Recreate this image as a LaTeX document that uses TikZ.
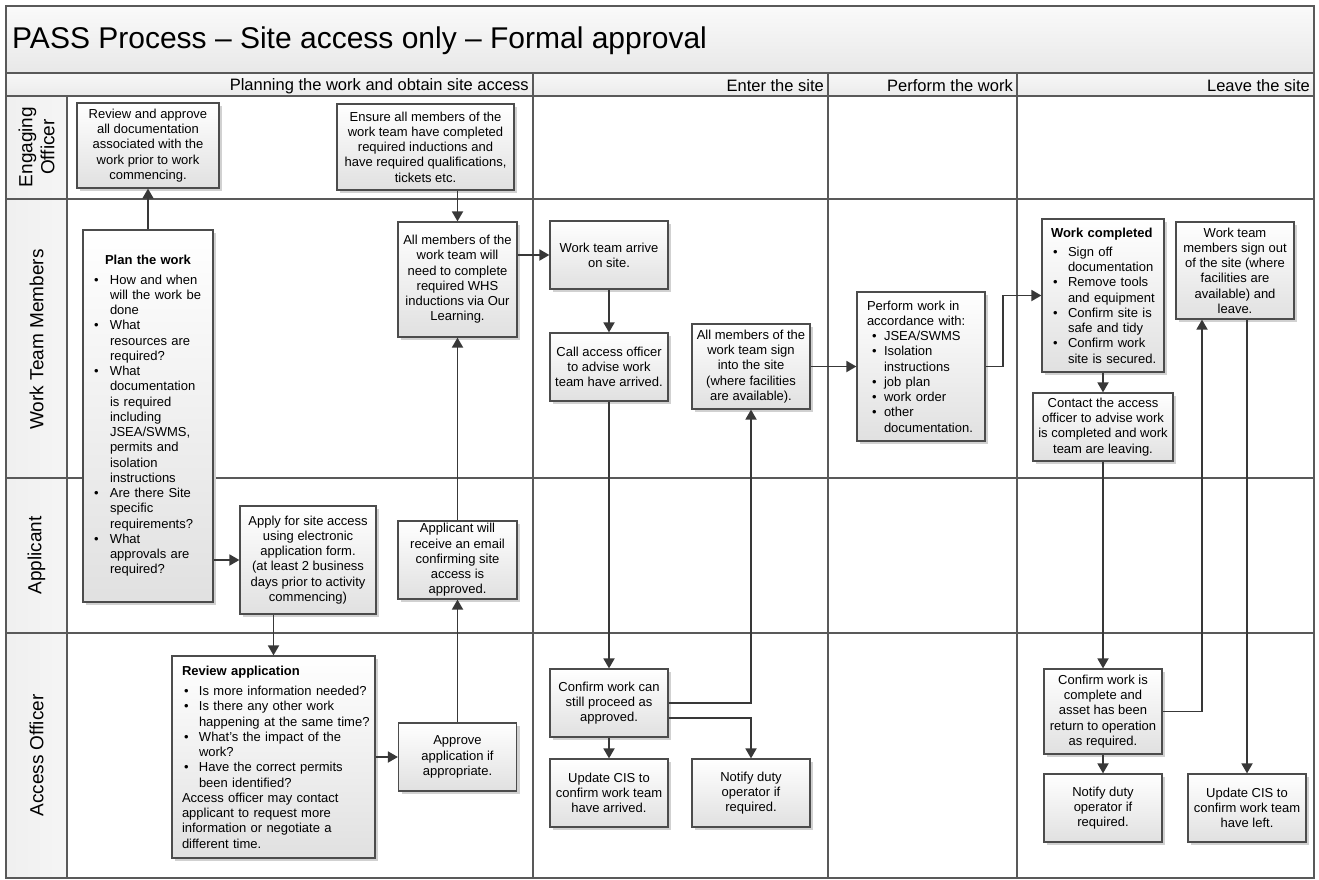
\documentclass[tikz,border=0pt]{standalone}
\usepackage{fontspec}
\setmainfont{Liberation Sans}
\usepackage{tikz}
\usetikzlibrary{arrows.meta,shadows}

\newlength{\BulSkip}
\newlength{\BulWd}
\newcommand{\Itm}[1]{\makebox[\BulWd][l]{\hspace{\BulSkip}\textbullet}\mbox{#1}}
\newcommand{\ItmCont}[1]{\hspace*{\BulWd}\mbox{#1}}
\newcommand{\BoxLine}[1]{\mbox{#1}}

\begin{document}
\begin{tikzpicture}[x=1pt, y=-1pt,
	lane/.style={draw=black!65, line width=1.4pt},
	box/.style={draw=black!70, line width=1.2pt, top color=white, bottom color=black!12,
		drop shadow={shadow xshift=3pt, shadow yshift=-3pt, fill=black!18, opacity=1},
		inner sep=0pt, align=center, font=\fontsize{13}{15.25}\selectfont},
	listbox/.style n args={3}{box, align=left, inner xsep=#1, text width=#2,
		execute at begin node={\setlength{\BulSkip}{#3}\setlength{\BulWd}{17pt}}},
	lanelabel/.style={rotate=90, align=center, font=\fontsize{19}{22}\selectfont},
	phase/.style={anchor=east, inner sep=0pt, font=\fontsize{16.5}{19}\selectfont},
	link/.style={draw=black!78, line width=1.8pt, -{Triangle[length=10pt, width=11pt]}}]
	% Swimlanes, boxes and links:
	\useasboundingbox (0,0) rectangle (1319,880);
	\fill[top color=black!2, bottom color=black!9] (6,6) rectangle (1314,73);
	\fill[top color=black!3, bottom color=black!8] (6,73) rectangle (1314,96);
	\fill[left color=black!6, right color=black!4] (6,96) rectangle (67,878);
	\draw[lane] (6,73) -- (1314,73);
	\draw[lane] (6,96) -- (1314,96);
	\draw[lane] (67,96) -- (67,878);
	\draw[lane] (533,73) -- (533,878);
	\draw[lane] (828,73) -- (828,878);
	\draw[lane] (1017,73) -- (1017,878);
	\draw[lane] (6,199) -- (1314,199);
	\draw[lane] (6,478) -- (1314,478);
	\draw[lane] (6,633) -- (1314,633);
	\draw[lane] (6,6) rectangle (1314,878);
	\node[anchor=west, inner sep=0pt, font=\fontsize{30}{35}\selectfont] (Title) at (12,41) {PASS Process – Site access only – Formal approval};
	\node[phase] (Phase1) at (529,86) {Planning the work and obtain site access};
	\node[phase] (Phase2) at (824,86) {Enter the site};
	\node[phase] (Phase3) at (1013,86) {Perform the work};
	\node[phase] (Phase4) at (1310,86) {Leave the site};
	\node[lanelabel] (Lane1) at (36.5,147) {Engaging\\Officer};
	\node[lanelabel] (Lane2) at (36.5,339.5) {Work Team Members};
	\node[lanelabel] (Lane3) at (36.5,555.5) {Applicant};
	\node[lanelabel] (Lane4) at (36.5,755.5) {Access Officer};
	\node[box, minimum width=142pt, minimum height=85pt] (Box1) at (148,145.5) {Review and approve\\all documentation\\associated with the\\work prior to work\\commencing.};
	\node[box, minimum width=177pt, minimum height=86pt] (Box2) at (425.5,147) {Ensure all members of the\\work team have completed\\required inductions and\\have required qualifications,\\tickets etc.};
	\node[listbox={10pt}{110pt}{1pt}, minimum width=130pt, minimum height=372pt] (Box3) at (148,416) {\makebox[110pt][c]{\textbf{Plan the work}}\\[4pt]
		\Itm{How and when}\\ \ItmCont{will the work be}\\ \ItmCont{done}\\
		\Itm{What}\\ \ItmCont{resources are}\\ \ItmCont{required?}\\
		\Itm{What}\\ \ItmCont{documentation}\\ \ItmCont{is required}\\ \ItmCont{including}\\ \ItmCont{JSEA/SWMS,}\\ \ItmCont{permits and}\\ \ItmCont{isolation}\\ \ItmCont{instructions}\\
		\Itm{Are there Site}\\ \ItmCont{specific}\\ \ItmCont{requirements?}\\
		\Itm{What}\\ \ItmCont{approvals are}\\ \ItmCont{required?}};
	\node[box, minimum width=119pt, minimum height=115pt] (Box4) at (457.5,279.5) {All members of the\\work team will\\need to complete\\required WHS\\inductions via Our\\Learning.};
	\node[box, minimum width=136pt, minimum height=108pt] (Box5) at (308,560) {Apply for site access\\using electronic\\application form.\\(at least 2 business\\days prior to activity\\commencing)};
	\node[box, minimum width=119pt, minimum height=78pt] (Box6) at (457.5,560) {Applicant will\\receive an email\\confirming site\\access is\\approved.};
	\node[listbox={10pt}{183pt}{2pt}, minimum width=203pt, minimum height=202pt] (Box7) at (273.5,757) {\BoxLine{\textbf{Review application}}\\[5pt]
		\Itm{Is more information needed?}\\
		\Itm{Is there any other work}\\ \ItmCont{happening at the same time?}\\
		\Itm{What’s the impact of the}\\ \ItmCont{work?}\\
		\Itm{Have the correct permits}\\ \ItmCont{been identified?}\\
		\BoxLine{Access officer may contact}\\ \BoxLine{applicant to request more}\\ \BoxLine{information or negotiate a}\\ \BoxLine{different time.}};
	\node[box, minimum width=118pt, minimum height=68pt] (Box8) at (457.5,757) {Approve\\application if\\appropriate.};
	\node[box, minimum width=118pt, minimum height=68pt] (Box9) at (609,255) {Work team arrive\\on site.};
	\node[box, minimum width=118pt, minimum height=68pt] (Box10) at (609,367) {Call access officer\\to advise work\\team have arrived.};
	\node[box, minimum width=118pt, minimum height=85pt] (Box11) at (751,366.5) {All members of the\\work team sign\\into the site\\(where facilities\\are available).};
	\node[listbox={10pt}{108pt}{5pt}, minimum width=128pt, minimum height=149pt] (Box12) at (921,366.5) {\BoxLine{Perform work in}\\ \BoxLine{accordance with:}\\
		\Itm{JSEA/SWMS}\\ \Itm{Isolation}\\ \ItmCont{instructions}\\ \Itm{job plan}\\ \Itm{work order}\\ \Itm{other}\\ \ItmCont{documentation.}};
	\node[box, minimum width=118pt, minimum height=68pt] (Box13) at (609,703) {Confirm work can\\still proceed as\\approved.};
	\node[box, minimum width=118pt, minimum height=68pt] (Box14) at (609,793) {Update CIS to\\confirm work team\\have arrived.};
	\node[box, minimum width=118pt, minimum height=68pt] (Box15) at (751,793) {Notify duty\\operator if\\required.};
	\node[listbox={9pt}{104pt}{2pt}, minimum width=122pt, minimum height=153pt] (Box16) at (1103,295.5) {\BoxLine{\textbf{Work completed}}\\[4pt]
		\Itm{Sign off}\\ \ItmCont{documentation}\\ \Itm{Remove tools}\\ \ItmCont{and equipment}\\
		\Itm{Confirm site is}\\ \ItmCont{safe and tidy}\\ \Itm{Confirm work}\\ \ItmCont{site is secured.}};
	\node[box, minimum width=118pt, minimum height=97pt] (Box17) at (1235,270.5) {Work team\\members sign out\\of the site (where\\facilities are\\available) and\\leave.};
	\node[box, minimum width=140pt, minimum height=68pt] (Box18) at (1103,427) {Contact the access\\officer to advise work\\is completed and work\\team are leaving.};
	\node[box, minimum width=118pt, minimum height=85pt] (Box19) at (1103,711.5) {Confirm work is\\complete and\\asset has been\\return to operation\\as required.};
	\node[box, minimum width=118pt, minimum height=68pt] (Box20) at (1103,808) {Notify duty\\operator if\\required.};
	\node[box, minimum width=118pt, minimum height=68pt] (Box21) at (1247,808) {Update CIS to\\confirm work team\\have left.};
	\draw[link] (Box3.north) -- (Box1.south);
	\draw[link] (Box2.south -| Box4.north) -- (Box4.north);
	\draw[link] (Box4.east |- Box9.west) -- (Box9.west);
	\draw[link] (Box3.east |- Box5.west) -- (Box5.west);
	\draw[link] (Box5.south -| Box7.north) -- (Box7.north);
	\draw[link] (Box7.east) -- (Box8.west);
	\draw[link] (Box8.north) -- (Box6.south);
	\draw[link] (Box6.north) -- (Box4.south);
	\draw[link] (Box9.south) -- (Box10.north);
	\draw[link] (Box10.south) -- (Box13.north);
	\draw[link] (Box13.south) -- (Box14.north);
	\draw[link] (Box13.east) -| (Box11.south);
	\draw[link] ([yshift=-15pt]Box13.east) -| (Box15.north);
	\draw[link] (Box11.east) -- (Box12.west);
	\draw[link] (Box12.east) -- ++(17,0) |- (Box16.west);
	\draw[link] (Box16.south) -- (Box18.north);
	\draw[link] (Box18.south) -- (Box19.north);
	\draw[link] (Box19.south) -- (Box20.north);
	\draw[link] (Box19.east) -| ([xshift=-33pt]Box17.south);
	\draw[link] (Box17.south -| Box21.north) -- (Box21.north);
\end{tikzpicture}
\end{document}
